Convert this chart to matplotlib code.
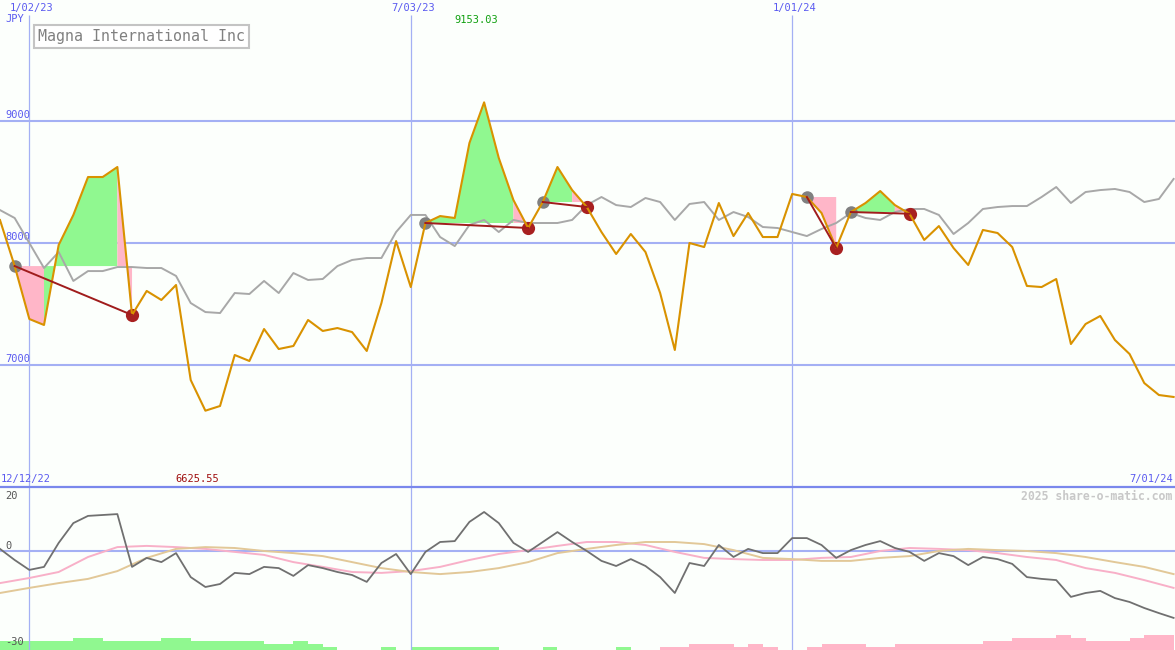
import numpy as np
import matplotlib
matplotlib.use('Agg')
import matplotlib.pyplot as plt
from matplotlib.lines import Line2D
from matplotlib.transforms import blended_transform_factory as blend

# weekly closes (JPY), first week starts 2022-12-19
start = np.datetime64('2022-12-19')
price = [8188, 7811, 7377, 7328, 7984, 8230, 8541, 8541, 8623, 7410,
         7607, 7533, 7656, 6877, 6625.55, 6664, 7082, 7033, 7295, 7131,
         7156, 7369, 7279, 7303, 7270, 7115, 7508, 8016, 7639, 8164,
         8221, 8205, 8820, 9153.03, 8697, 8352, 8123, 8336, 8623, 8434,
         8295, 8090, 7910, 8074, 7926, 7590, 7123, 8000, 7967, 8328,
         8057, 8246, 8049, 8049, 8402, 8377, 8246, 7959, 8254, 8328,
         8426, 8311, 8240, 8025, 8139, 7959, 7820, 8107, 8082, 7967,
         7648, 7639, 7705, 7172, 7336, 7402, 7205, 7090, 6852, 6754, 6738]
avg = [8270, 8205, 8000, 7795, 7926, 7689, 7770, 7770, 7803, 7803,
       7795, 7795, 7730, 7508, 7434, 7426, 7590, 7582, 7689, 7590,
       7754, 7697, 7705, 7811, 7861, 7877, 7877, 8090, 8230, 8230,
       8049, 7975, 8148, 8189, 8090, 8189, 8164, 8164, 8164, 8189,
       8311, 8377, 8311, 8295, 8369, 8336, 8189, 8320, 8336, 8189,
       8254, 8213, 8131, 8123, 8090, 8057, 8115, 8164, 8246, 8205,
       8189, 8254, 8279, 8279, 8230, 8074, 8164, 8279, 8295, 8303,
       8303, 8377, 8459, 8328, 8418, 8434, 8443, 8418, 8336, 8361, 8525]
buys = [1, 29, 37, 55, 58]
sells = [9, 36, 40, 57, 62]

# lower panel oscillators
osc = [0.7, -3.0, -6.3, -5.3, 2.7, 9.3, 11.7, 12.0, 12.3, -5.3,
       -2.3, -3.7, -0.7, -8.7, -12.0, -11.0, -7.3, -7.7, -5.3, -5.7,
       -8.3, -4.7, -5.7, -7.0, -8.0, -10.3, -4.0, -1.0, -7.7, -0.3,
       3.0, 3.3, 9.7, 13.0, 9.3, 2.7, -0.3, 3.0, 6.3, 3.0,
       0.0, -3.3, -5.0, -2.7, -5.0, -8.7, -14.0, -4.0, -5.0, 2.0,
       -2.0, 0.7, -0.7, -0.7, 4.3, 4.3, 2.0, -2.3, 0.3, 2.0,
       3.3, 1.0, -0.3, -3.3, -0.7, -1.7, -4.7, -2.0, -2.7, -4.3,
       -8.7, -9.3, -9.7, -15.3, -14.0, -13.3, -15.7, -17.0, -19.0, -20.7, -22.3]
# smooth averages, read every second week
osc_fast = [-10.7, -9.0, -7.0, -2.0, 1.3, 1.7, 1.3, 0.7, -0.3, -1.3,
            -3.7, -5.3, -7.0, -7.3, -6.7, -5.3, -3.0, -1.0, 0.3, 1.7,
            3.0, 3.0, 2.0, -0.3, -2.3, -2.7, -3.0, -3.0, -2.3, -2.0,
            0.0, 1.0, 0.7, 0.3, -0.7, -2.0, -3.0, -5.7, -7.3, -9.7, -12.3]
osc_slow = [-14.0, -12.3, -10.7, -9.3, -6.7, -2.3, 0.7, 1.3, 1.0, 0.0,
            -0.7, -1.7, -3.7, -5.7, -7.0, -7.7, -7.0, -5.7, -3.7, -0.7,
            0.7, 2.0, 3.0, 3.0, 2.3, 0.3, -2.3, -2.7, -3.3, -3.3,
            -2.3, -1.7, 0.0, 0.7, 0.3, 0.0, -0.7, -2.0, -3.7, -5.3, -7.7]
bar_level = [3, 3, 3, 3, 3, 4, 4, 3, 3, 3, 3, 4, 4, 3, 3, 3, 3, 3, 2, 2,
             3, 2, 1, 0, 0, 0, 1, 0, 1, 1, 1, 1, 1, 1, 0, 0, 0, 1, 0, 0,
             0, 0, 1, 0, 0, -1, -1, -2, -2, -2, -1, -2, -1, 0, 0, -1, -2, -2, -2, -1,
             -1, -2, -2, -2, -2, -2, -2, -3, -3, -4, -4, -4, -5, -4, -3, -3, -3, -4, -5, -5]
date_lines = ['2023-01-02', '2023-07-03', '2024-01-01']
date_labels = ['1/02/23', '7/03/23', '1/01/24']
price_levels = [7000, 8000, 9000]

W, H = 1175, 650
bg = '#fcfffc'
blue_txt = '#5a5af0'
grid = '#a4b0f4'
green = '#90f890'
pink = '#ffb6c8'
font = 'DejaVu Sans Mono'

price = np.array(price)
x = np.arange(len(price))
x2 = np.arange(len(osc_fast)) * 2
xdates = [(np.datetime64(d) - start).astype(int) / 7 for d in date_lines]

fig = plt.figure(figsize=(W / 100, H / 100), dpi=100, facecolor=bg)
top = fig.add_axes([0, 163 / H, 1, 487 / H])
bot = fig.add_axes([0, 0, 1, 163 / H])
for ax in (top, bot):
    ax.axis('off')
    ax.set_xlim(0, W / 14.67)
top.set_ylim(6000, 9992)
bot.set_ylim(-33, 21.33)

# grid
for lvl in price_levels:
    top.axhline(lvl, color=grid, lw=1.5, zorder=1)
    top.text(5 / W, lvl + 8, str(lvl), transform=blend(top.transAxes, top.transData),
             color=blue_txt, fontsize=7.5, family=font, va='bottom', ha='left')
top.vlines(xdates, 6000, 9869, color=grid, lw=0.9, zorder=1)
bot.vlines(xdates, -33, 21.33, color=grid, lw=0.9, zorder=1)
bot.axhline(0, color=grid, lw=1.5, zorder=1)
fig.add_artist(Line2D([0, 1], [163 / H, 163 / H], color='#7a88ec', lw=1.6))

for xd, lab in zip(xdates, date_labels):
    top.text(xd + 0.15, 1 - 8 / 487, lab, transform=blend(top.transData, top.transAxes),
             color=blue_txt, fontsize=7.5, family=font, ha='center', va='center')

# trade fills: runs of segments with the same colour become one polygon
for b, s in zip(buys, sells):
    base = price[b]
    k0 = b
    while k0 < s:
        up = price[k0 + 1] > base
        k1 = k0 + 1
        while k1 < s and (price[k1 + 1] > base) == up:
            k1 += 1
        xs = [k0] + list(range(k0, k1 + 1)) + [k1]
        ys = [base] + list(price[k0:k1 + 1]) + [base]
        top.fill(xs, ys, color=green if up else pink, lw=0, zorder=2)
        k0 = k1

top.plot(x, avg, color='#a8a8a8', lw=1.4, zorder=3)
top.plot(buys, price[buys], 'o', color='#808080', ms=9, mew=0, zorder=3.5)
top.plot(sells, price[sells], 'o', color='#a82020', ms=9.5, mew=0, zorder=3.5)
top.plot(x, price, color='#d99200', lw=1.5, zorder=4)
for b, s in zip(buys, sells):
    top.plot([b, s], [price[b], price[s]], color='#a01c1c', lw=1.4, zorder=5)

imax, imin = int(np.argmax(price)), int(np.argmin(price))
top.text(imax - 0.55, 1 - 20 / 487, f'{price[imax]:.2f}', transform=blend(top.transData, top.transAxes),
         color='#10a010', fontsize=7.5, family=font, ha='center', va='center')
top.text(imin - 0.55, 8 / 487, f'{price[imin]:.2f}', transform=blend(top.transData, top.transAxes),
         color='#a01010', fontsize=7.5, family=font, ha='center', va='center')

fig.text(5 / W, 1 - 19 / H, 'JPY', color=blue_txt, fontsize=7.5, family=font, va='center')
fig.text(1 / W, 1 - 479 / H, '12/12/22', color=blue_txt, fontsize=7.5, family=font, va='center')
fig.text(1173 / W, 1 - 479 / H, '7/01/24', color=blue_txt, fontsize=7.5, family=font,
         va='center', ha='right')
fig.text(38 / W, 1 - 36.5 / H, 'Magna International Inc', color='#808080', fontsize=10.8,
         family=font, va='center', ha='left',
         bbox=dict(boxstyle='square,pad=0.25', fc='white', ec='#c4c4c4', lw=1.5))
fig.text(1172 / W, 1 - 496 / H, '2025 share-o-matic.com', color='#c8c8c8', fontsize=8.3,
         family=font, fontweight='bold', va='center', ha='right')

# lower panel
lv = np.array(bar_level)
bot.bar(np.arange(len(lv)), np.abs(lv), width=1, align='edge', bottom=-33,
        color=[green if v > 0 else pink for v in lv], lw=0, zorder=0.5)
bot.plot(x2, osc_fast, color='#f8b0c8', lw=1.4, zorder=2)
bot.plot(x2, osc_slow, color='#e2c898', lw=1.4, zorder=2.5)
bot.plot(x, osc, color='#707070', lw=1.3, zorder=3)
for val, yp in [('20', 496), ('0', 546), ('-30', 642)]:
    bot.text(5 / W, (650 - yp) / 163, val, transform=bot.transAxes, color='#555555',
             fontsize=7.5, family=font, va='center', ha='left')

fig.savefig('out.png', dpi=100, facecolor=bg)
